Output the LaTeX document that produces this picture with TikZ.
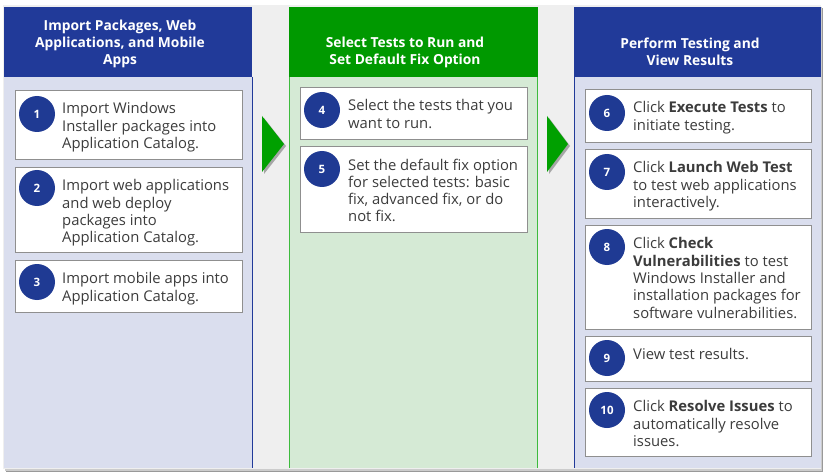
\documentclass[tikz,border=0pt]{standalone}
\usepackage{fontspec}
\setmainfont{Open Sans}
\definecolor{hdrblue}{HTML}{213A99}
\definecolor{bodyblue}{HTML}{DADEEE}
\definecolor{hdrgreen}{HTML}{009900}
\definecolor{bodygreen}{HTML}{D5EAD5}
\definecolor{gapgray}{HTML}{EFEFEF}
\definecolor{boxline}{HTML}{8F8F8F}
\definecolor{numblue}{HTML}{1F3A93}
\definecolor{txt}{HTML}{3C3C3C}
\definecolor{arrgreen}{HTML}{00A000}
\definecolor{edgegreen}{HTML}{3DBB3D}
\tikzset{
  stepbox/.style={draw=boxline, line width=1.2pt, fill=white, anchor=north west, inner sep=0pt},
  numc/.style={circle, fill=numblue, minimum size=36pt, inner sep=0pt, text=white, font=\fontsize{11.5}{12}\selectfont\bfseries},
  bodytxt/.style={anchor=north west, inner sep=0pt, align=left, text=txt, font=\fontsize{14.8}{17.3}\selectfont},
  hdrtxt/.style={align=center, text=white, inner sep=0pt, font=\fontsize{13.8}{17}\selectfont\bfseries},
  arrowtri/.style={fill=arrgreen},
  arrowshadow/.style={fill=black!35}
}
\begin{document}
\begin{tikzpicture}[x=1pt,y=-1pt]
\useasboundingbox (0,0) rectangle (824,473);
\fill[white] (0,0) rectangle (824,473);
% outer frame with shadow
\fill[black!40] (6,8) rectangle (823,472);
\fill[black!20] (5,7) rectangle (822,470.5);
\fill[gapgray] (3,5) rectangle (821,469);
% column 1
\fill[bodyblue] (4,77) rectangle (252,468);
\fill[hdrblue] (4,7) rectangle (252,77);
\draw[hdrblue, line width=1pt] (252,77) -- (252,468);
% column 2
\fill[bodygreen] (289,77) rectangle (538,468);
\fill[hdrgreen] (289,7) rectangle (538,77);
\draw[edgegreen, line width=1.2pt] (289.5,77) -- (289.5,468);
\draw[edgegreen, line width=1.2pt] (537.5,77) -- (537.5,468);
% column 3
\fill[bodyblue] (574,77) rectangle (821,468);
\fill[hdrblue] (574,7) rectangle (821,77);
\draw[hdrblue, line width=1pt] (574.5,77) -- (574.5,468);
% headers
\node[hdrtxt] (h1) at (120,43.5) {Import Packages, Web\\Applications, and Mobile\\Apps};
\node[hdrtxt] (h2) at (405,52) {Select Tests to Run and\\Set Default Fix Option};
\node[hdrtxt] (h3) at (690,52) {Perform Testing and\\View Results};
% arrows
\fill[arrowshadow] (264,118) -- (286,146) -- (264,174) -- cycle;
\fill[arrowtri] (262,116) -- (284,144) -- (262,172) -- cycle;
\fill[arrowshadow] (549,118) -- (570,146) -- (549,174) -- cycle;
\fill[arrowtri] (547,116) -- (568,144) -- (547,172) -- cycle;
% column 1 boxes
\node[stepbox, minimum width=227pt, minimum height=69pt] (b1) at (15,90) {};
\node[stepbox, minimum width=227pt, minimum height=85pt] (b2) at (15,167) {};
\node[stepbox, minimum width=227pt, minimum height=52pt] (b3) at (15,260) {};
% column 2 boxes
\node[stepbox, minimum width=227pt, minimum height=52pt] (b4) at (300,87) {};
\node[stepbox, minimum width=227pt, minimum height=86pt] (b5) at (300,146) {};
% column 3 boxes
\node[stepbox, minimum width=226pt, minimum height=53pt] (b6) at (585,89) {};
\node[stepbox, minimum width=226pt, minimum height=69pt] (b7) at (585,149) {};
\node[stepbox, minimum width=226pt, minimum height=104pt] (b8) at (585,225) {};
\node[stepbox, minimum width=226pt, minimum height=45pt] (b9) at (585,336) {};
\node[stepbox, minimum width=226pt, minimum height=68pt] (b10) at (585,388) {};
% numbers
\node[numc] (n1) at ([shift={(22,24)}]b1.north west) {1};
\node[numc] (n2) at ([shift={(22,21)}]b2.north west) {2};
\node[numc] (n3) at ([shift={(22,22)}]b3.north west) {3};
\node[numc] (n4) at ([shift={(22,23)}]b4.north west) {4};
\node[numc] (n5) at ([shift={(22,23)}]b5.north west) {5};
\node[numc] (n6) at ([shift={(22,24)}]b6.north west) {6};
\node[numc] (n7) at ([shift={(22,23)}]b7.north west) {7};
\node[numc] (n8) at ([shift={(22,22)}]b8.north west) {8};
\node[numc] (n9) at ([shift={(22,22)}]b9.north west) {9};
\node[numc] (n10) at ([shift={(22,22)}]b10.north west) {10};
% texts
\node[bodytxt] (t1) at ([shift={(47,12.5)}]b1.north west) {Import Windows\\Installer packages into\\Application Catalog.};
\node[bodytxt] (t2) at ([shift={(47,12.5)}]b2.north west) {Import web applications\\and web deploy\\packages into\\Application Catalog.};
\node[bodytxt] (t3) at ([shift={(47,12.5)}]b3.north west) {Import mobile apps into\\Application Catalog.};
\node[bodytxt] (t4) at ([shift={(48,12.5)}]b4.north west) {Select the tests that you\\want to run.};
\node[bodytxt] (t5) at ([shift={(48,12.5)}]b5.north west) {Set the default fix option\\for selected tests: basic\\fix, advanced fix, or do\\not fix.};
\node[bodytxt] (t6) at ([shift={(48,12.5)}]b6.north west) {Click \textbf{Execute Tests} to\\initiate testing.};
\node[bodytxt] (t7) at ([shift={(48,12.5)}]b7.north west) {Click \textbf{Launch Web Test}\\to test web applications\\interactively.};
\node[bodytxt] (t8) at ([shift={(48,12.5)}]b8.north west) {Click \textbf{Check}\\\textbf{Vulnerabilities} to test\\Windows Installer and\\installation packages for\\software vulnerabilities.};
\node[bodytxt] (t9) at ([shift={(48,12.5)}]b9.north west) {View test results.};
\node[bodytxt] (t10) at ([shift={(48,12.5)}]b10.north west) {Click \textbf{Resolve Issues} to\\automatically resolve\\issues.};
\end{tikzpicture}
\end{document}
